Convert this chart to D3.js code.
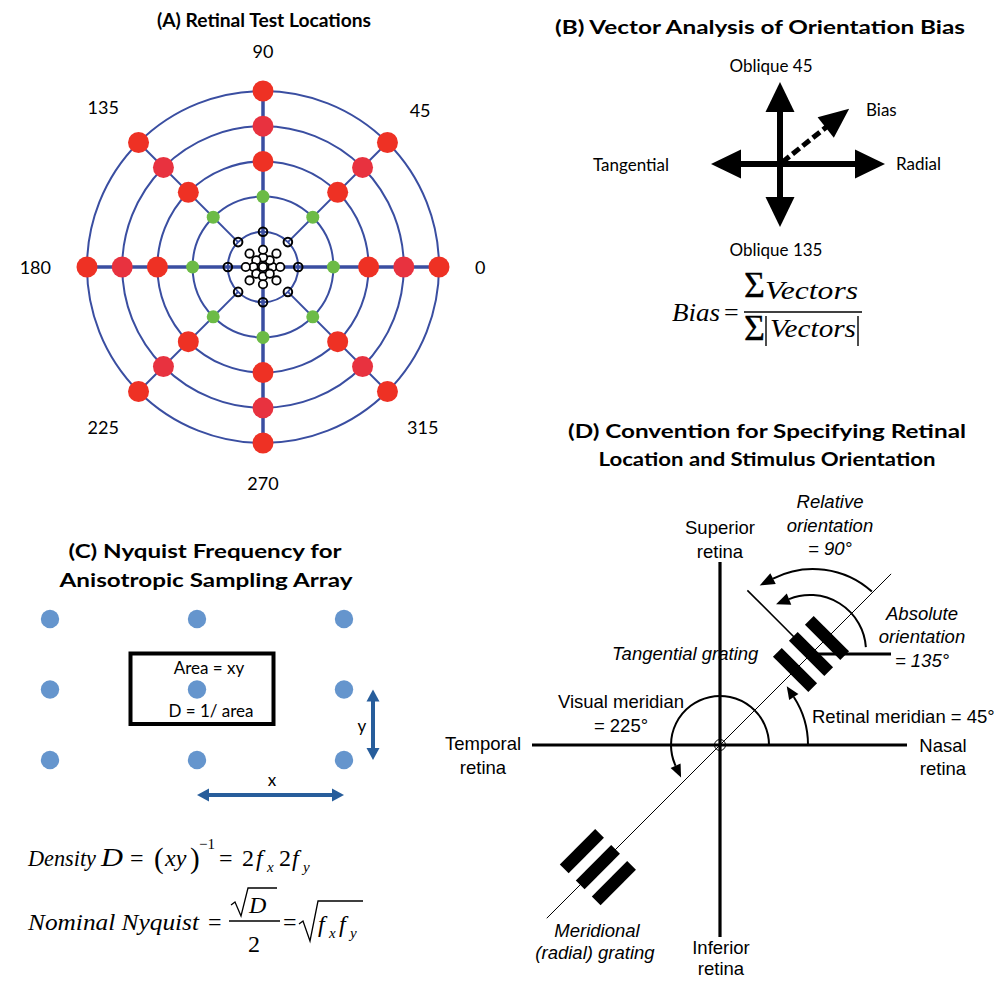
<!DOCTYPE html>
<html><head><meta charset="utf-8">
<script src="https://cdn.jsdelivr.net/npm/d3@7"></script>
<style>html,body{margin:0;padding:0;background:#fff}svg{display:block}</style>
</head><body>
<svg id="chart"></svg>
<script>
// ---------------- DATA ----------------
// Panel A: polar test locations (levels in ring units)
const polarAngles = [0, 45, 90, 135, 180, 225, 270, 315];
const angleLabels = ["0", "45", "90", "135", "180", "225", "270", "315"];
const ringLevels = [1, 2, 3, 4, 5];
const redLevels = [3, 4, 5];
const greenLevels = [2];
const blackLevels = [1];
const innerAxisLevels = [0.27, 0.49];
const innerDiagLevels = [0.27, 0.54];
// Panel B: orientation vectors
const vectorNames = ["Radial", "Oblique 45", "Tangential", "Oblique 135"];
const vectorAngles = [0, 90, 180, 270];
const vectorMagnitudes = [1.05, 0.82, 0.69, 0.63];
const biasAngle = 38.6;
const biasMagnitude = 0.885;
// Panel C: sampling array (column / row indices)
const arrayCols = [0, 1, 2];
const arrayRows = [0, 1, 2];
// Panel D: angular convention
const retinalMeridian = 45;
const visualMeridian = 225;
const absoluteOrientation = 135;
const relativeOrientation = 90;
const tangentialGratingEcc = 1.287;
const radialGratingEcc = 1.727;

// ---------------- SETUP ----------------
const W = 1004, H = 981;
const svg = d3.select("#chart").attr("width", W).attr("height", H);
const SANS = "Lato, 'Open Sans', sans-serif";
const HELV = "'Liberation Sans', Arial, Helvetica, sans-serif";
const SERIF = "'Liberation Serif', 'Times New Roman', serif";
const rad = d => d * Math.PI / 180;

function txt(g, x, y, s, o = {}) {
  const t = g.append("text").attr("x", x).attr("y", y).text(s)
    .attr("font-family", o.font || SANS).attr("font-size", o.size || 17)
    .attr("text-anchor", o.anchor || "start").attr("fill", "#000");
  if (o.weight) t.attr("font-weight", o.weight);
  if (o.style) t.attr("font-style", o.style);
  if (o.len) t.attr("textLength", o.len).attr("lengthAdjust", "spacingAndGlyphs");
  return t;
}

// ---------------- PANEL A ----------------
const gA = svg.append("g");
const A = { cx: 263, cy: 267 };
const rA = d3.scaleLinear().domain([0, 5]).range([0, 176]);
const pA = (lv, a) => [A.cx + rA(lv) * Math.cos(rad(a)), A.cy - rA(lv) * Math.sin(rad(a))];
const BLUE = "#3a4ea1";

gA.selectAll("circle.ring").data(ringLevels).join("circle")
  .attr("cx", A.cx).attr("cy", A.cy).attr("r", d => rA(d))
  .attr("fill", "none").attr("stroke", BLUE).attr("stroke-width", 2);

gA.selectAll("line.spoke").data(polarAngles).join("line")
  .attr("x1", d => pA(d % 90 === 0 ? 0 : 1, d)[0]).attr("y1", d => pA(d % 90 === 0 ? 0 : 1, d)[1])
  .attr("x2", d => pA(5, d)[0]).attr("y2", d => pA(5, d)[1])
  .attr("stroke", BLUE).attr("stroke-width", d => d % 90 === 0 ? 3.5 : 2);

const redCol = { 3: "#ee3124", 4: "#e8323f", 5: "#ee3124" };
const redPts = redLevels.flatMap(l => polarAngles.map(a => ({ l, a })));
gA.selectAll("circle.red").data(redPts).join("circle")
  .attr("cx", d => pA(d.l, d.a)[0]).attr("cy", d => pA(d.l, d.a)[1])
  .attr("r", 10.5).attr("fill", d => redCol[d.l]);

const greenPts = greenLevels.flatMap(l => polarAngles.map(a => ({ l, a })));
gA.selectAll("circle.green").data(greenPts).join("circle")
  .attr("cx", d => pA(d.l, d.a)[0]).attr("cy", d => pA(d.l, d.a)[1])
  .attr("r", 6.5).attr("fill", "#6cbb46");

const blackPts = blackLevels.flatMap(l => polarAngles.map(a => ({ l, a })));
gA.selectAll("circle.black").data(blackPts).join("circle")
  .attr("cx", d => pA(d.l, d.a)[0]).attr("cy", d => pA(d.l, d.a)[1])
  .attr("r", 4.3).attr("fill", "none").attr("stroke", "#000").attr("stroke-width", 2);

const innerPts = [{ l: 0, a: 0 }];
[0, 1].forEach(i => polarAngles.forEach(a => innerPts.push({ l: a % 90 === 0 ? innerAxisLevels[i] : innerDiagLevels[i], a })));
gA.selectAll("circle.inner").data(innerPts).join("circle")
  .attr("cx", d => pA(d.l, d.a)[0]).attr("cy", d => pA(d.l, d.a)[1])
  .attr("r", 4.2).attr("fill", "#fff").attr("stroke", "#000").attr("stroke-width", 1.8);

polarAngles.forEach((a, i) => {
  const t = txt(gA, 0, 0, angleLabels[i], { size: 18, anchor: "middle" }).attr("dominant-baseline", "central");
  const w = t.node().getComputedTextLength();
  const R = 212 + (w / 2) * Math.abs(Math.cos(rad(a))) + 4 * Math.abs(Math.sin(rad(a)));
  t.attr("x", A.cx + R * Math.cos(rad(a))).attr("y", A.cy - R * Math.sin(rad(a)));
});
txt(gA, 264, 27, "(A) Retinal Test Locations", { size: 19, weight: 700, anchor: "middle", len: 214 });

// ---------------- PANEL B ----------------
const gB = svg.append("g");
const B = { cx: 780, cy: 164 };
const vB = d3.scaleLinear().domain([0, 1]).range([0, 100]);
function arrowB(angle, mag, dashed) {
  const L = vB(mag), hl = 30, hw = dashed ? 13 : 14.5;
  const ux = Math.cos(rad(angle)), uy = -Math.sin(rad(angle));
  const nx = -uy, ny = ux;
  const bx = B.cx + ux * (L - hl), by = B.cy + uy * (L - hl);
  gB.append("line").attr("x1", B.cx + (dashed ? ux * 3 : 0)).attr("y1", B.cy + (dashed ? uy * 3 : 0))
    .attr("x2", bx + ux * 2).attr("y2", by + uy * 2)
    .attr("stroke", "#000").attr("stroke-width", dashed ? 5 : 6)
    .attr("stroke-dasharray", dashed ? "9,4" : null);
  gB.append("path").attr("d", d3.line()([[bx + nx * hw, by + ny * hw], [B.cx + ux * L, B.cy + uy * L], [bx - nx * hw, by - ny * hw]]) + "Z")
    .attr("fill", "#000");
}
vectorAngles.forEach((a, i) => arrowB(a, vectorMagnitudes[i], false));
arrowB(biasAngle, biasMagnitude, true);
txt(gB, 896, 170, vectorNames[0], { size: 17 });
txt(gB, 771, 72, vectorNames[1], { size: 17, anchor: "middle" });
txt(gB, 593, 171, vectorNames[2], { size: 17 });
txt(gB, 776, 256, vectorNames[3], { size: 17, anchor: "middle" });
txt(gB, 866, 116, "Bias", { size: 17 });
txt(gB, 760, 34, "(B) Vector Analysis of Orientation Bias", { size: 19, weight: 700, anchor: "middle", len: 410 });
// formula
txt(gB, 672, 321, "Bias", { font: SERIF, size: 26, style: "italic", len: 48 });
txt(gB, 724, 321, "=", { font: SERIF, size: 26 });
gB.append("line").attr("x1", 744).attr("x2", 862).attr("y1", 312).attr("y2", 312).attr("stroke", "#000").attr("stroke-width", 1.4);
txt(gB, 744, 297, "\u03a3", { font: SERIF, size: 36 }).attr("stroke", "#000").attr("stroke-width", 0.3);
txt(gB, 765, 299, "Vectors", { font: SERIF, size: 26, style: "italic", len: 93 });
txt(gB, 744, 340, "\u03a3", { font: SERIF, size: 36 }).attr("stroke", "#000").attr("stroke-width", 0.3);
txt(gB, 770, 337, "Vectors", { font: SERIF, size: 26, style: "italic", len: 86 });
[766, 858].forEach(x => gB.append("line").attr("x1", x).attr("x2", x).attr("y1", 316).attr("y2", 346).attr("stroke", "#000").attr("stroke-width", 1.4));

// ---------------- PANEL C ----------------
const gC = svg.append("g");
const xC = d3.scaleLinear().domain([0, 2]).range([50, 344]);
const yC = d3.scaleLinear().domain([0, 2]).range([619, 760]);
txt(gC, 205, 558, "(C) Nyquist Frequency for", { size: 19, weight: 700, anchor: "middle", len: 273 });
txt(gC, 206, 587, "Anisotropic Sampling Array", { size: 19, weight: 700, anchor: "middle", len: 293 });
gC.append("rect").attr("x", 130.5).attr("y", 653.5).attr("width", 143).attr("height", 70.5)
  .attr("fill", "none").attr("stroke", "#000").attr("stroke-width", 4);
const gridPts = arrayRows.flatMap(r => arrayCols.map(c => ({ r, c })));
gC.selectAll("circle.dot").data(gridPts).join("circle")
  .attr("cx", d => xC(d.c)).attr("cy", d => yC(d.r)).attr("r", 9.2).attr("fill", "#6595cd");
txt(gC, 209, 674, "Area = xy", { size: 17, anchor: "middle" });
txt(gC, 211, 717, "D = 1/ area", { size: 17, anchor: "middle" });
const ACOL = "#275d9b";
function dblArrow(g, x1, y1, x2, y2) {
  const dx = x2 - x1, dy = y2 - y1, L = Math.hypot(dx, dy), ux = dx / L, uy = dy / L, nx = -uy, ny = ux;
  const hl = 12, hw = 6.5;
  g.append("line").attr("x1", x1 + ux * hl * 0.8).attr("y1", y1 + uy * hl * 0.8).attr("x2", x2 - ux * hl * 0.8).attr("y2", y2 - uy * hl * 0.8)
    .attr("stroke", ACOL).attr("stroke-width", 4);
  [[x1, y1, -1], [x2, y2, 1]].forEach(([tx, ty, s]) => {
    const bx = tx - s * ux * hl, by = ty - s * uy * hl;
    g.append("path").attr("d", d3.line()([[bx + nx * hw, by + ny * hw], [tx, ty], [bx - nx * hw, by - ny * hw]]) + "Z").attr("fill", ACOL);
  });
}
dblArrow(gC, 373, yC(1), 373, yC(2));
dblArrow(gC, xC(1), 795, xC(2), 795);
txt(gC, 362, 732, "y", { size: 17, anchor: "middle" });
txt(gC, 272, 786, "x", { size: 17, anchor: "middle" });
// formulas
const FS = 24;
const it = { font: SERIF, size: FS, style: "italic" };
const up = { font: SERIF, size: FS };
txt(gC, 28, 866, "Density", { ...it, len: 68 });
txt(gC, 101, 866, "D", { ...it, size: 25, len: 22 });
txt(gC, 130, 866, "=", up);
txt(gC, 154, 868, "(", { font: SERIF, size: 29 });
txt(gC, 165, 866, "xy", it);
txt(gC, 190, 868, ")", { font: SERIF, size: 29 });
txt(gC, 199, 849, "\u22121", { font: SERIF, size: 15 });
txt(gC, 219, 866, "=", up);
txt(gC, 242, 866, "2", up);
txt(gC, 256, 866, "f", it);
txt(gC, 267, 872, "x", { ...it, size: 15 });
txt(gC, 279, 866, "2", up);
txt(gC, 292, 866, "f", it);
txt(gC, 303, 872, "y", { ...it, size: 15 });

txt(gC, 28, 930, "Nominal Nyquist", { ...it, len: 171 });
txt(gC, 208, 930, "=", up);
gC.append("path").attr("d", "M231,905 L235,902 L241,916 L248,888 L277,888").attr("fill", "none").attr("stroke", "#000").attr("stroke-width", 1.3);
txt(gC, 249, 913, "D", it);
gC.append("line").attr("x1", 229).attr("x2", 280).attr("y1", 921).attr("y2", 921).attr("stroke", "#000").attr("stroke-width", 1.3);
txt(gC, 254, 952, "2", { ...up, anchor: "middle" });
txt(gC, 283, 930, "=", up);
gC.append("path").attr("d", "M299,924 L303,921 L310,941 L318,901 L363,901").attr("fill", "none").attr("stroke", "#000").attr("stroke-width", 1.3);
txt(gC, 318, 932, "f", it);
txt(gC, 329, 938, "x", { ...it, size: 15 });
txt(gC, 339, 932, "f", it);
txt(gC, 350, 938, "y", { ...it, size: 15 });

// ---------------- PANEL D ----------------
const gD = svg.append("g");
const O = { x: 720, y: 745 };
const dS = d3.scaleLinear().domain([0, 1]).range([0, 100]);
const at = (c, r, a) => [c.x + dS(r) * Math.cos(rad(a)), c.y - dS(r) * Math.sin(rad(a))];
txt(gD, 767, 438, "(D) Convention for Specifying Retinal", { size: 19, weight: 700, anchor: "middle", len: 398 });
txt(gD, 767, 466, "Location and Stimulus Orientation", { size: 19, weight: 700, anchor: "middle", len: 337 });

// axes
gD.append("line").attr("x1", O.x - 188).attr("x2", O.x + 187).attr("y1", O.y).attr("y2", O.y).attr("stroke", "#000").attr("stroke-width", 3.2);
gD.append("line").attr("x1", O.x).attr("x2", O.x).attr("y1", O.y - 183).attr("y2", O.y + 192).attr("stroke", "#000").attr("stroke-width", 3.2);
// meridian line
const m1 = at(O, 2.42, retinalMeridian), m2 = at(O, 2.45, visualMeridian);
gD.append("line").attr("x1", m1[0]).attr("y1", m1[1]).attr("x2", m2[0]).attr("y2", m2[1]).attr("stroke", "#000").attr("stroke-width", 1);
gD.append("circle").attr("cx", O.x).attr("cy", O.y).attr("r", 5.5).attr("fill", "none").attr("stroke", "#000").attr("stroke-width", 1);

// tangential grating
const G = (() => { const p = at(O, tangentialGratingEcc, retinalMeridian); return { x: p[0], y: p[1] }; })();
const tEnd = at(G, 0.9, absoluteOrientation);
gD.append("line").attr("x1", G.x).attr("y1", G.y).attr("x2", tEnd[0]).attr("y2", tEnd[1]).attr("stroke", "#000").attr("stroke-width", 1.6);
gD.append("line").attr("x1", G.x).attr("y1", G.y).attr("x2", G.x + dS(0.8)).attr("y2", G.y).attr("stroke", "#000").attr("stroke-width", 3);
function grating(c, barAngle) {
  const g = gD.append("g").attr("transform", `translate(${c.x},${c.y}) rotate(${-barAngle})`);
  g.selectAll("rect").data([-1, 0, 1]).join("rect")
    .attr("x", -25).attr("y", d => d * 22.6 - 6.2).attr("width", 50).attr("height", 12.4).attr("fill", "#000");
}
grating(G, absoluteOrientation);
const Hc = (() => { const p = at(O, radialGratingEcc, visualMeridian); return { x: p[0], y: p[1] }; })();
grating(Hc, retinalMeridian);

function arcArrow(c, r, a0, a1, hl = 13, hw = 5.5) {
  const p = d3.path();
  p.arc(c.x, c.y, r, -rad(a0), -rad(a1), a1 > a0);
  gD.append("path").attr("d", p.toString()).attr("fill", "none").attr("stroke", "#000").attr("stroke-width", 2);
  const ex = c.x + r * Math.cos(rad(a1)), ey = c.y - r * Math.sin(rad(a1));
  const tx = -Math.sin(rad(a1)), ty = -Math.cos(rad(a1));
  const nx = Math.cos(rad(a1)), ny = -Math.sin(rad(a1));
  gD.append("path").attr("d", d3.line()([[ex + nx * hw, ey + ny * hw], [ex + tx * hl, ey + ty * hl], [ex - nx * hw, ey - ny * hw]]) + "Z").attr("fill", "#000");
}
arcArrow(O, 49, 0, visualMeridian - 20);
arcArrow(O, 88, 0, retinalMeridian - 12);
arcArrow({ x: G.x - 1, y: G.y - 3 }, 56, 4, absoluteOrientation - 23, 14, 6);
arcArrow({ x: G.x + 2, y: G.y + 3 }, 88, retinalMeridian + 3, retinalMeridian + relativeOrientation - 18, 15, 6);

const DS = 18.5;
const hv = { font: HELV, size: DS, anchor: "middle" };
const hvi = { font: HELV, size: DS, anchor: "middle", style: "italic" };
txt(gD, 720, 534, "Superior", hv);
txt(gD, 720, 558, "retina", hv);
txt(gD, 830, 508, "Relative", hvi);
txt(gD, 830, 532, "orientation", hvi);
txt(gD, 830, 555, "= " + relativeOrientation + "\u00b0", hvi);
txt(gD, 922, 620, "Absolute", hvi);
txt(gD, 922, 643, "orientation", hvi);
txt(gD, 922, 667, "= " + absoluteOrientation + "\u00b0", hvi);
txt(gD, 612, 660, "Tangential grating", { font: HELV, size: DS, style: "italic" });
txt(gD, 621, 708, "Visual meridian", hv);
txt(gD, 621, 732, "= " + visualMeridian + "\u00b0", hv);
txt(gD, 812, 723, "Retinal meridian = " + retinalMeridian + "\u00b0", { font: HELV, size: DS });
txt(gD, 483, 750, "Temporal", hv);
txt(gD, 483, 774, "retina", hv);
txt(gD, 943, 752, "Nasal", hv);
txt(gD, 943, 775, "retina", hv);
txt(gD, 597, 937, "Meridional", hvi);
txt(gD, 595, 959, "(radial) grating", hvi);
txt(gD, 721, 954, "Inferior", hv);
txt(gD, 721, 975, "retina", hv);
</script>
</body></html>
